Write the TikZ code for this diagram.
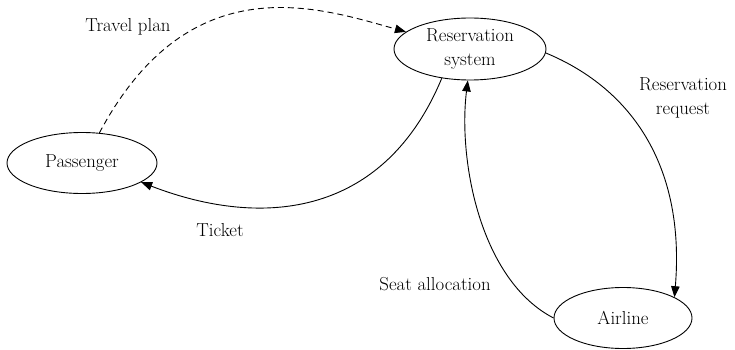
\documentclass[tikz,border=0pt]{standalone}
\usetikzlibrary{shapes.geometric,arrows.meta}
\begin{document}
\begin{tikzpicture}[x=1pt,y=-1pt,
  font=\fontsize{18.8}{24}\selectfont,
  actor/.style={ellipse,draw,line width=0.9pt,inner sep=0pt,align=center},
  flow/.style={line width=0.9pt,-{Triangle[length=11pt,width=8.5pt]}},
  lbl/.style={align=center,inner sep=0pt}]
\useasboundingbox (0,0) rectangle (735,350);

% actors
\node[actor,minimum width=150pt,minimum height=61pt] (pass) at (82,163) {Passenger};
\node[actor,minimum width=152pt,minimum height=62pt] (res) at (470,49) {Reservation\\system};
\node[actor,minimum width=138pt,minimum height=61pt] (air) at (623,318) {Airline};

% flows
\draw[flow,dash pattern=on 6pt off 4pt] (pass.60) .. controls (190,-37) and (320,8) .. (res.165);
\draw[flow] (res.226) .. controls (385,215) and (265,230) .. (pass.-18);
\draw[flow] (res.-3) .. controls (635,90) and (685,170) .. (air.22);
\draw[flow] (air.180) .. controls (480,280) and (458,160) .. (res.266);

% flow labels
\node[lbl] (tplan) at (128,27) {Travel plan};
\node[lbl] (ticket) at (220,230) {Ticket};
\node[lbl] (rreq) at (683,98) {Reservation\\request};
\node[lbl] (seat) at (435,284) {Seat allocation};
\end{tikzpicture}
\end{document}
